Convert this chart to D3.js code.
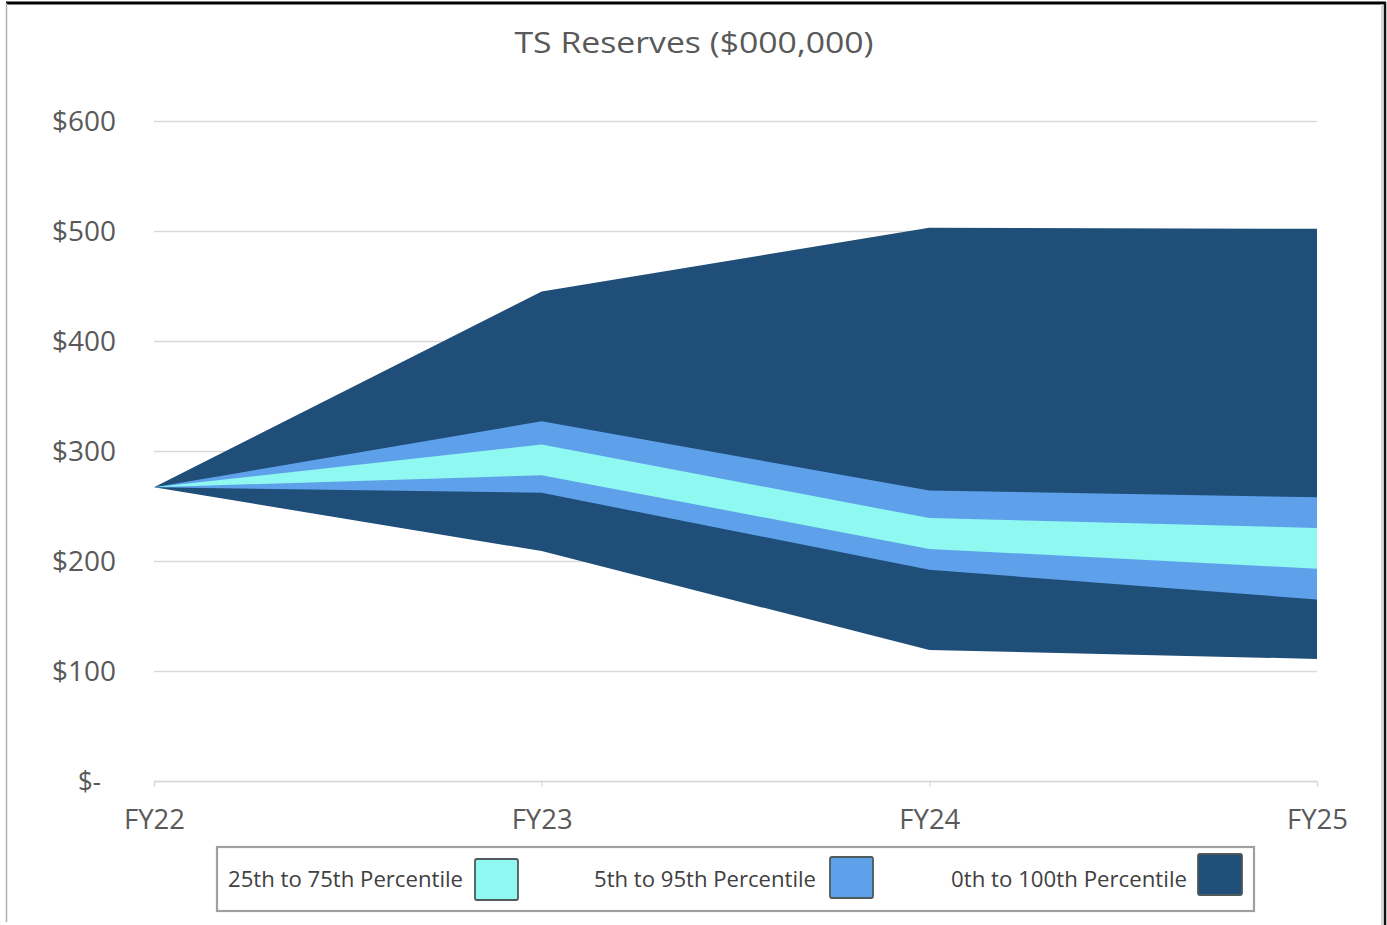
<!DOCTYPE html>
<html><head><meta charset="utf-8">
<script src="https://cdn.jsdelivr.net/npm/d3@7/dist/d3.min.js"></script>
<style>body{margin:0;background:#fff}svg{display:block}text{font-family:"Open Sans",sans-serif}</style>
</head><body>
<svg id="c" width="1387" height="925"></svg>
<script>
const categories = ["FY22","FY23","FY24","FY25"];
const p0   = [267, 209, 119, 111];
const p5   = [267, 262, 192, 165];
const p25  = [267, 278, 211, 193];
const p75  = [267, 306, 239, 230];
const p95  = [267, 327, 264, 258];
const p100 = [267, 445, 503, 502];
const yTicks = [0,100,200,300,400,500,600];
const yTickLabels = ["$-","$100","$200","$300","$400","$500","$600"];
const legendLabels = ["25th to 75th Percentile","5th to 95th Percentile","0th to 100th Percentile"];
const colors = ["#8ff8f0","#5ea0e9","#1f4e79"];

const svg = d3.select("#c");
const x = d3.scalePoint().domain(categories).range([154,1317]);
const y = d3.scaleLinear().domain([0,600]).range([781,121]);

// frame
svg.append("line").attr("x1",6).attr("x2",1386).attr("y1",3).attr("y2",3).attr("stroke","#000").attr("stroke-width",3);
svg.append("line").attr("x1",6.5).attr("x2",6.5).attr("y1",3).attr("y2",922).attr("stroke","#b0b0b0").attr("stroke-width",1.5);
svg.append("line").attr("x1",1382).attr("x2",1382).attr("y1",4).attr("y2",925).attr("stroke","#c8c8c8").attr("stroke-width",1.5);
svg.append("line").attr("x1",1385).attr("x2",1385).attr("y1",2).attr("y2",925).attr("stroke","#111").attr("stroke-width",2.5);

// title
svg.append("text").attr("x",694).attr("y",41).attr("text-anchor","middle").attr("dominant-baseline","central")
  .attr("font-size",30).attr("fill","#595959").attr("textLength",359).attr("lengthAdjust","spacingAndGlyphs").text("TS Reserves ($000,000)");

// y axis grid
const ya = svg.append("g").attr("transform","translate(154,0)")
  .call(d3.axisLeft(y).tickValues(yTicks).tickSize(-(1317-154)).tickPadding(38)
    .tickFormat((d,i)=>yTickLabels[i]));
ya.select(".domain").remove();
ya.selectAll(".tick line").attr("stroke","#d9d9d9").attr("stroke-width",1.3);
ya.selectAll(".tick text").attr("fill","#595959").attr("font-size",27).attr("font-family","Open Sans")
  .attr("dy",null).attr("y",-1.5).attr("dominant-baseline","central")
  .attr("textLength",d=> d===0 ? 23 : 64).attr("lengthAdjust","spacingAndGlyphs")
  .attr("dx",(d)=> d===0 ? -15 : 0);

// areas
const series = [[p0,p100,colors[2]],[p5,p95,colors[1]],[p25,p75,colors[0]]];
const area = d3.area().x(d=>x(d.c)).y0(d=>y(d.lo)).y1(d=>y(d.hi)).curve(d3.curveLinear);
series.forEach(([lo,hi,col])=>{
  const data = categories.map((c,i)=>({c, lo:lo[i], hi:hi[i]}));
  svg.append("path").datum(data).attr("d",area).attr("fill",col);
});

// x axis
const xa = svg.append("g").attr("transform","translate(0,781)")
  .call(d3.axisBottom(x).tickSize(6).tickSizeOuter(0).tickPadding(14));
xa.select(".domain").attr("stroke","#d9d9d9").attr("stroke-width",1.3);
xa.selectAll(".tick line").attr("stroke","#d9d9d9").attr("stroke-width",1.3);
xa.selectAll(".tick text").attr("fill","#595959").attr("font-size",27).attr("font-family","Open Sans")
  .attr("dy",null).attr("y",37.5).attr("dominant-baseline","central")
  .attr("textLength",61).attr("lengthAdjust","spacingAndGlyphs");

// legend
const lg = svg.append("g");
lg.append("rect").attr("x",217).attr("y",847).attr("width",1037).attr("height",64)
  .attr("fill","#fff").attr("stroke","#a0a0a0").attr("stroke-width",2.2);
const items = [
  {tx:228, tw:235, sx:475, sy:859, sw:43, sh:41},
  {tx:594, tw:222, sx:830, sy:857, sw:43, sh:41},
  {tx:951, tw:236, sx:1198, sy:854, sw:44, sh:41}
];
items.forEach((it,i)=>{
  lg.append("text").attr("x",it.tx).attr("y",879).attr("dominant-baseline","central")
    .attr("font-size",21).attr("fill","#404040").attr("textLength",it.tw).attr("lengthAdjust","spacingAndGlyphs")
    .text(legendLabels[i]);
  lg.append("rect").attr("x",it.sx).attr("y",it.sy).attr("width",it.sw).attr("height",it.sh).attr("rx",2)
    .attr("fill",colors[i]).attr("stroke","#505a5a").attr("stroke-width",1.8);
});
</script>
</body></html>
